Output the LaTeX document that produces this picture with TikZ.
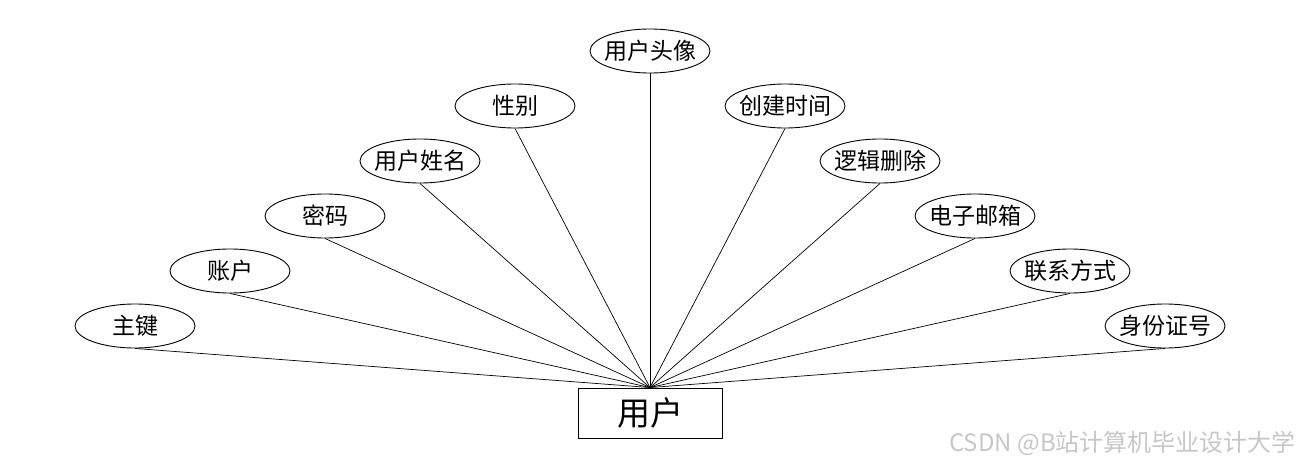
\documentclass[tikz,border=0pt]{standalone}
\usepackage{fontspec}
\setmainfont{Noto Sans CJK SC}
\newfontfamily\cjk{Noto Sans CJK SC}
\usetikzlibrary{shapes.geometric}
\begin{document}
\begin{tikzpicture}[x=1pt,y=-1pt,
  attr/.style={draw=black,line width=0.9pt,ellipse,minimum width=120pt,minimum height=44pt,inner xsep=-4pt,inner ysep=0pt,font=\cjk\fontsize{23}{23}\selectfont},
  ent/.style={draw=black,line width=0.9pt,rectangle,minimum width=144pt,minimum height=50pt,inner sep=0pt,font=\cjk\fontsize{33}{33}\selectfont},
  link/.style={draw=black,line width=0.7pt}]
\useasboundingbox (0,0) rectangle (1300,468);
\node[ent] (u) at (650,413) {用户};
\node[attr] (a1) at (135,326) {主键};
\node[attr] (a2) at (230,271) {账户};
\node[attr] (a3) at (325,216) {密码};
\node[attr] (a4) at (420,161) {用户姓名};
\node[attr] (a5) at (515,106) {性别};
\node[attr] (a6) at (650,51) {用户头像};
\node[attr] (a7) at (785,106) {创建时间};
\node[attr] (a8) at (880,161) {逻辑删除};
\node[attr] (a9) at (975,216) {电子邮箱};
\node[attr] (a10) at (1070,271) {联系方式};
\node[attr] (a11) at (1165,326) {身份证号};
\foreach \i in {1,...,11} \draw[link] (a\i.south) -- (u.north);
\node[anchor=east,text=black!22,font=\cjk\fontsize{24}{24}\selectfont,inner sep=0pt] (wm) at (1296,443) {CSDN @B站计算机毕业设计大学};
\end{tikzpicture}
\end{document}
